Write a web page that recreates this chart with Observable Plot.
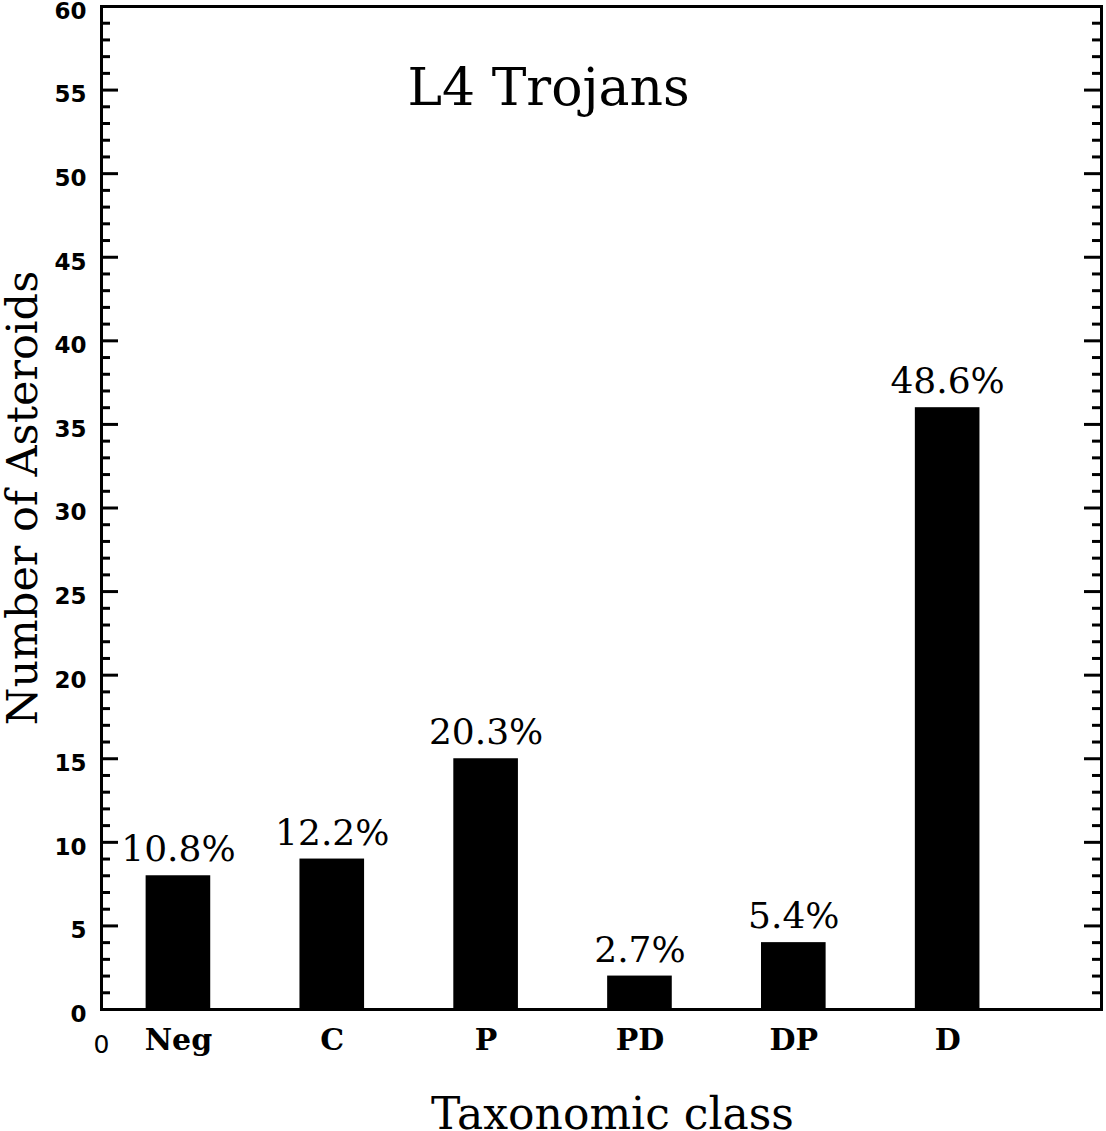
<!DOCTYPE html>
<html>
<head>
<meta charset="utf-8">
<script src="https://cdn.jsdelivr.net/npm/d3@7"></script>
<script src="https://cdn.jsdelivr.net/npm/@observablehq/plot@0.6"></script>
<style>
  html, body { margin: 0; padding: 0; background: #fff; }
  #chart svg { display: block; }
</style>
</head>
<body>
<div id="chart"></div>
<script>
// ---- data ----
const categories = ["Neg", "C", "P", "PD", "DP", "D"];
const counts = [8, 9, 15, 2, 4, 36];
const percentLabels = ["10.8%", "12.2%", "20.3%", "2.7%", "5.4%", "48.6%"];
const yMajorTicks = [0, 5, 10, 15, 20, 25, 30, 35, 40, 45, 50, 55, 60];
const yMinorTicks = d3.range(0, 61).filter(v => v % 5 !== 0);
const xZeroLabel = ["0"];
const titleText = "L4 Trojans";
const xTitle = "Taxonomic class";
const yTitle = "Number of Asteroids";

const rows = categories.map((c, i) => ({cat: c, pos: i + 0.5, count: counts[i], pct: percentLabels[i]}));

const W = 1106, H = 1131;
const mL = 101, mR = 5, mT = 6, mB = 122;
const plotW = W - mL - mR;
const halfBar = 0.21;
const serif = "DejaVu Serif";

const chart = Plot.plot({
  width: W, height: H,
  marginLeft: mL, marginRight: mR, marginTop: mT, marginBottom: mB,
  style: {background: "#fff", color: "#000"},
  x: {type: "linear", domain: [0, 6.5], axis: null},
  y: {domain: [0, 60], axis: null},
  marks: [
    Plot.rectY(rows, {x1: d => d.pos - halfBar, x2: d => d.pos + halfBar, y1: 0, y2: "count", fill: "#000"}),
    Plot.text(rows, {x: "pos", y: "count", text: "pct", lineAnchor: "middle", fontFamily: serif, fontSize: 36, dy: -26, fill: "#000"}),
    // y ticks (inward, both sides)
    Plot.tickY(yMajorTicks, {y: d => d, insetRight: plotW - 17, strokeWidth: 3, stroke: "#000"}),
    Plot.tickY(yMajorTicks, {y: d => d, insetLeft: plotW - 17, strokeWidth: 3, stroke: "#000"}),
    Plot.tickY(yMinorTicks, {y: d => d, insetRight: plotW - 9, strokeWidth: 3, stroke: "#000"}),
    Plot.tickY(yMinorTicks, {y: d => d, insetLeft: plotW - 9, strokeWidth: 3, stroke: "#000"}),
    // y tick labels
    Plot.text(yMajorTicks, {y: d => d, text: d => String(d), frameAnchor: "left", textAnchor: "end", lineAnchor: "middle",
      dx: -15, dy: 5, fontFamily: "DejaVu Sans", fontWeight: "bold", fontSize: 23, fill: "#000"}),
    // x category labels
    Plot.text(rows, {x: "pos", text: "cat", frameAnchor: "bottom", lineAnchor: "middle", dy: 31,
      fontFamily: serif, fontWeight: "bold", fontSize: 30, fill: "#000"}),
    Plot.text(xZeroLabel, {x: 0, text: d => d, frameAnchor: "bottom", lineAnchor: "middle", dy: 35,
      fontFamily: "DejaVu Sans", fontSize: 25, fill: "#000"}),
    // frame
    Plot.frame({stroke: "#000", strokeWidth: 3}),
    // title
    Plot.text([titleText], {text: d => d, frameAnchor: "top-left", textAnchor: "start", lineAnchor: "middle", dx: 306, dy: 82,
      fontFamily: serif, fontSize: 52, fill: "#000"}),
    // axis titles
    Plot.text([xTitle], {text: d => d, frameAnchor: "bottom", textAnchor: "middle", lineAnchor: "middle", dx: 11, dy: 105,
      fontFamily: serif, fontSize: 44, fill: "#000"}),
    Plot.text([yTitle], {text: d => d, frameAnchor: "left", textAnchor: "middle", lineAnchor: "middle", rotate: -90,
      dx: -78, dy: -10, fontFamily: serif, fontSize: 43, fill: "#000"})
  ]
});
document.getElementById("chart").appendChild(chart);
</script>
</body>
</html>
